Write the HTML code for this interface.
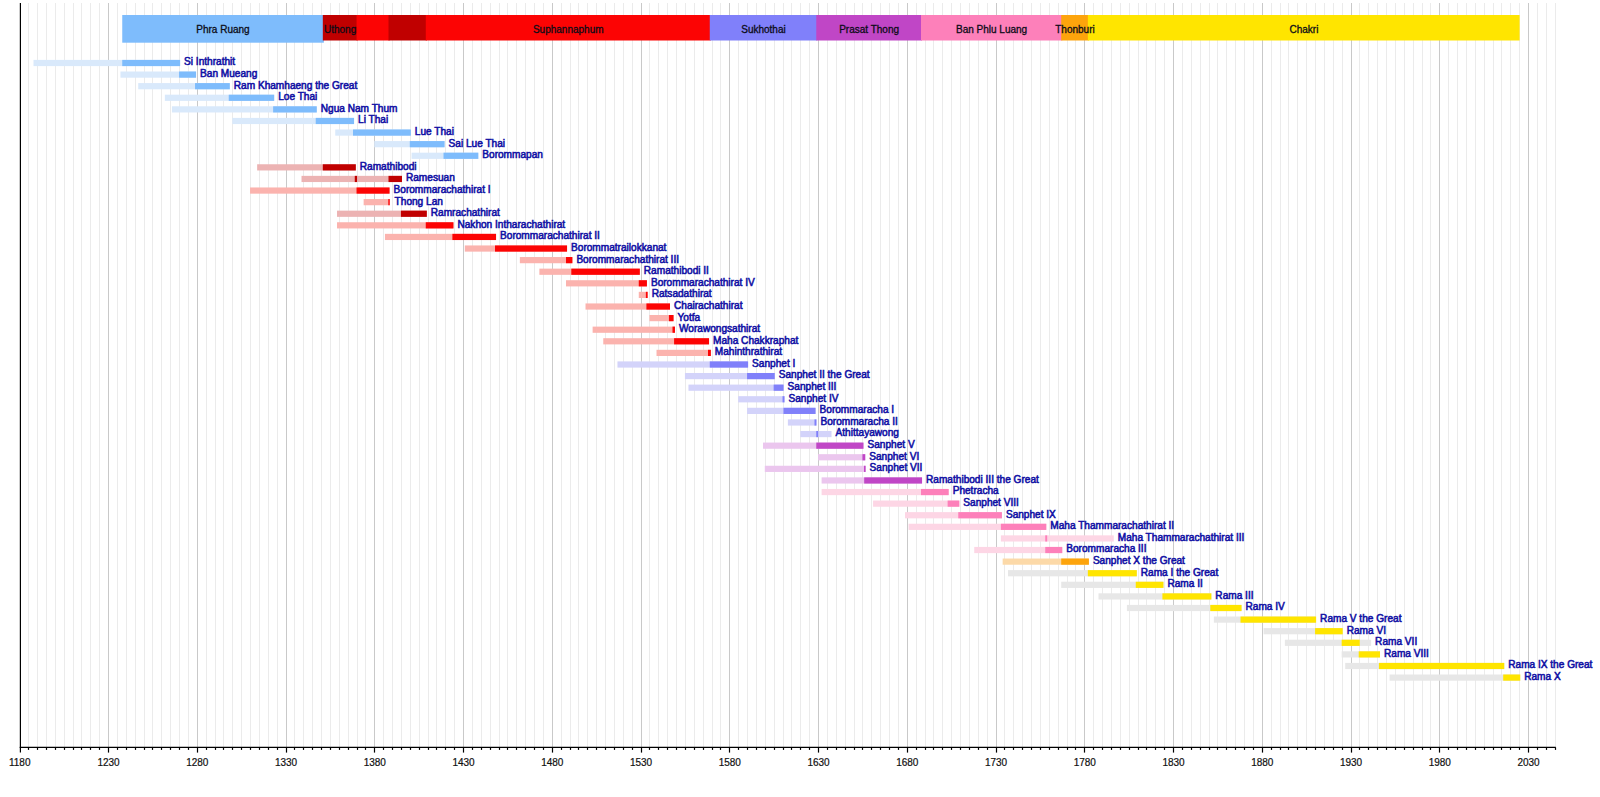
<!DOCTYPE html>
<html lang="en">
<head>
<meta charset="utf-8">
<title>Timeline of Thai monarchs</title>
<style>
html,body{margin:0;padding:0;background:#fff;}
body{width:1600px;height:797px;overflow:hidden;}
svg{display:block;font-family:"Liberation Sans",Arial,Helvetica,sans-serif;font-size:10px;}
.k{font-size:10.1px;fill:#1010a4;stroke:#1010a4;stroke-width:.55px;}
.d{fill:#0c0c18;stroke:#0c0c18;stroke-width:.3px;text-anchor:middle;}
.a{fill:#111;stroke:#111;stroke-width:.2px;text-anchor:middle;}
.g1{stroke:#ebebeb;stroke-width:1;}
.g2{stroke:#c9c9c9;stroke-width:1;}
.ax{stroke:#000;stroke-width:1.2;}
</style>
</head>
<body>
<svg width="1600" height="797" viewBox="0 0 1600 797">
<rect width="1600" height="797" fill="#fff"/>
<g class="g1">
<line x1="28.5" y1="3.0" x2="28.5" y2="747.3"/>
<line x1="37.5" y1="3.0" x2="37.5" y2="747.3"/>
<line x1="46.5" y1="3.0" x2="46.5" y2="747.3"/>
<line x1="55.5" y1="3.0" x2="55.5" y2="747.3"/>
<line x1="64.5" y1="3.0" x2="64.5" y2="747.3"/>
<line x1="73.5" y1="3.0" x2="73.5" y2="747.3"/>
<line x1="81.5" y1="3.0" x2="81.5" y2="747.3"/>
<line x1="90.5" y1="3.0" x2="90.5" y2="747.3"/>
<line x1="99.5" y1="3.0" x2="99.5" y2="747.3"/>
<line x1="117.5" y1="3.0" x2="117.5" y2="747.3"/>
<line x1="126.5" y1="3.0" x2="126.5" y2="747.3"/>
<line x1="135.5" y1="3.0" x2="135.5" y2="747.3"/>
<line x1="144.5" y1="3.0" x2="144.5" y2="747.3"/>
<line x1="152.5" y1="3.0" x2="152.5" y2="747.3"/>
<line x1="161.5" y1="3.0" x2="161.5" y2="747.3"/>
<line x1="170.5" y1="3.0" x2="170.5" y2="747.3"/>
<line x1="179.5" y1="3.0" x2="179.5" y2="747.3"/>
<line x1="188.5" y1="3.0" x2="188.5" y2="747.3"/>
<line x1="206.5" y1="3.0" x2="206.5" y2="747.3"/>
<line x1="215.5" y1="3.0" x2="215.5" y2="747.3"/>
<line x1="223.5" y1="3.0" x2="223.5" y2="747.3"/>
<line x1="232.5" y1="3.0" x2="232.5" y2="747.3"/>
<line x1="241.5" y1="3.0" x2="241.5" y2="747.3"/>
<line x1="250.5" y1="3.0" x2="250.5" y2="747.3"/>
<line x1="259.5" y1="3.0" x2="259.5" y2="747.3"/>
<line x1="268.5" y1="3.0" x2="268.5" y2="747.3"/>
<line x1="277.5" y1="3.0" x2="277.5" y2="747.3"/>
<line x1="294.5" y1="3.0" x2="294.5" y2="747.3"/>
<line x1="303.5" y1="3.0" x2="303.5" y2="747.3"/>
<line x1="312.5" y1="3.0" x2="312.5" y2="747.3"/>
<line x1="321.5" y1="3.0" x2="321.5" y2="747.3"/>
<line x1="330.5" y1="3.0" x2="330.5" y2="747.3"/>
<line x1="339.5" y1="3.0" x2="339.5" y2="747.3"/>
<line x1="348.5" y1="3.0" x2="348.5" y2="747.3"/>
<line x1="357.5" y1="3.0" x2="357.5" y2="747.3"/>
<line x1="365.5" y1="3.0" x2="365.5" y2="747.3"/>
<line x1="383.5" y1="3.0" x2="383.5" y2="747.3"/>
<line x1="392.5" y1="3.0" x2="392.5" y2="747.3"/>
<line x1="401.5" y1="3.0" x2="401.5" y2="747.3"/>
<line x1="410.5" y1="3.0" x2="410.5" y2="747.3"/>
<line x1="419.5" y1="3.0" x2="419.5" y2="747.3"/>
<line x1="428.5" y1="3.0" x2="428.5" y2="747.3"/>
<line x1="436.5" y1="3.0" x2="436.5" y2="747.3"/>
<line x1="445.5" y1="3.0" x2="445.5" y2="747.3"/>
<line x1="454.5" y1="3.0" x2="454.5" y2="747.3"/>
<line x1="472.5" y1="3.0" x2="472.5" y2="747.3"/>
<line x1="481.5" y1="3.0" x2="481.5" y2="747.3"/>
<line x1="490.5" y1="3.0" x2="490.5" y2="747.3"/>
<line x1="499.5" y1="3.0" x2="499.5" y2="747.3"/>
<line x1="507.5" y1="3.0" x2="507.5" y2="747.3"/>
<line x1="516.5" y1="3.0" x2="516.5" y2="747.3"/>
<line x1="525.5" y1="3.0" x2="525.5" y2="747.3"/>
<line x1="534.5" y1="3.0" x2="534.5" y2="747.3"/>
<line x1="543.5" y1="3.0" x2="543.5" y2="747.3"/>
<line x1="561.5" y1="3.0" x2="561.5" y2="747.3"/>
<line x1="570.5" y1="3.0" x2="570.5" y2="747.3"/>
<line x1="578.5" y1="3.0" x2="578.5" y2="747.3"/>
<line x1="587.5" y1="3.0" x2="587.5" y2="747.3"/>
<line x1="596.5" y1="3.0" x2="596.5" y2="747.3"/>
<line x1="605.5" y1="3.0" x2="605.5" y2="747.3"/>
<line x1="614.5" y1="3.0" x2="614.5" y2="747.3"/>
<line x1="623.5" y1="3.0" x2="623.5" y2="747.3"/>
<line x1="632.5" y1="3.0" x2="632.5" y2="747.3"/>
<line x1="649.5" y1="3.0" x2="649.5" y2="747.3"/>
<line x1="658.5" y1="3.0" x2="658.5" y2="747.3"/>
<line x1="667.5" y1="3.0" x2="667.5" y2="747.3"/>
<line x1="676.5" y1="3.0" x2="676.5" y2="747.3"/>
<line x1="685.5" y1="3.0" x2="685.5" y2="747.3"/>
<line x1="694.5" y1="3.0" x2="694.5" y2="747.3"/>
<line x1="703.5" y1="3.0" x2="703.5" y2="747.3"/>
<line x1="712.5" y1="3.0" x2="712.5" y2="747.3"/>
<line x1="720.5" y1="3.0" x2="720.5" y2="747.3"/>
<line x1="738.5" y1="3.0" x2="738.5" y2="747.3"/>
<line x1="747.5" y1="3.0" x2="747.5" y2="747.3"/>
<line x1="756.5" y1="3.0" x2="756.5" y2="747.3"/>
<line x1="765.5" y1="3.0" x2="765.5" y2="747.3"/>
<line x1="774.5" y1="3.0" x2="774.5" y2="747.3"/>
<line x1="783.5" y1="3.0" x2="783.5" y2="747.3"/>
<line x1="791.5" y1="3.0" x2="791.5" y2="747.3"/>
<line x1="800.5" y1="3.0" x2="800.5" y2="747.3"/>
<line x1="809.5" y1="3.0" x2="809.5" y2="747.3"/>
<line x1="827.5" y1="3.0" x2="827.5" y2="747.3"/>
<line x1="836.5" y1="3.0" x2="836.5" y2="747.3"/>
<line x1="845.5" y1="3.0" x2="845.5" y2="747.3"/>
<line x1="854.5" y1="3.0" x2="854.5" y2="747.3"/>
<line x1="862.5" y1="3.0" x2="862.5" y2="747.3"/>
<line x1="871.5" y1="3.0" x2="871.5" y2="747.3"/>
<line x1="880.5" y1="3.0" x2="880.5" y2="747.3"/>
<line x1="889.5" y1="3.0" x2="889.5" y2="747.3"/>
<line x1="898.5" y1="3.0" x2="898.5" y2="747.3"/>
<line x1="916.5" y1="3.0" x2="916.5" y2="747.3"/>
<line x1="925.5" y1="3.0" x2="925.5" y2="747.3"/>
<line x1="933.5" y1="3.0" x2="933.5" y2="747.3"/>
<line x1="942.5" y1="3.0" x2="942.5" y2="747.3"/>
<line x1="951.5" y1="3.0" x2="951.5" y2="747.3"/>
<line x1="960.5" y1="3.0" x2="960.5" y2="747.3"/>
<line x1="969.5" y1="3.0" x2="969.5" y2="747.3"/>
<line x1="978.5" y1="3.0" x2="978.5" y2="747.3"/>
<line x1="987.5" y1="3.0" x2="987.5" y2="747.3"/>
<line x1="1004.5" y1="3.0" x2="1004.5" y2="747.3"/>
<line x1="1013.5" y1="3.0" x2="1013.5" y2="747.3"/>
<line x1="1022.5" y1="3.0" x2="1022.5" y2="747.3"/>
<line x1="1031.5" y1="3.0" x2="1031.5" y2="747.3"/>
<line x1="1040.5" y1="3.0" x2="1040.5" y2="747.3"/>
<line x1="1049.5" y1="3.0" x2="1049.5" y2="747.3"/>
<line x1="1058.5" y1="3.0" x2="1058.5" y2="747.3"/>
<line x1="1067.5" y1="3.0" x2="1067.5" y2="747.3"/>
<line x1="1075.5" y1="3.0" x2="1075.5" y2="747.3"/>
<line x1="1093.5" y1="3.0" x2="1093.5" y2="747.3"/>
<line x1="1102.5" y1="3.0" x2="1102.5" y2="747.3"/>
<line x1="1111.5" y1="3.0" x2="1111.5" y2="747.3"/>
<line x1="1120.5" y1="3.0" x2="1120.5" y2="747.3"/>
<line x1="1129.5" y1="3.0" x2="1129.5" y2="747.3"/>
<line x1="1138.5" y1="3.0" x2="1138.5" y2="747.3"/>
<line x1="1146.5" y1="3.0" x2="1146.5" y2="747.3"/>
<line x1="1155.5" y1="3.0" x2="1155.5" y2="747.3"/>
<line x1="1164.5" y1="3.0" x2="1164.5" y2="747.3"/>
<line x1="1182.5" y1="3.0" x2="1182.5" y2="747.3"/>
<line x1="1191.5" y1="3.0" x2="1191.5" y2="747.3"/>
<line x1="1200.5" y1="3.0" x2="1200.5" y2="747.3"/>
<line x1="1209.5" y1="3.0" x2="1209.5" y2="747.3"/>
<line x1="1217.5" y1="3.0" x2="1217.5" y2="747.3"/>
<line x1="1226.5" y1="3.0" x2="1226.5" y2="747.3"/>
<line x1="1235.5" y1="3.0" x2="1235.5" y2="747.3"/>
<line x1="1244.5" y1="3.0" x2="1244.5" y2="747.3"/>
<line x1="1253.5" y1="3.0" x2="1253.5" y2="747.3"/>
<line x1="1271.5" y1="3.0" x2="1271.5" y2="747.3"/>
<line x1="1280.5" y1="3.0" x2="1280.5" y2="747.3"/>
<line x1="1288.5" y1="3.0" x2="1288.5" y2="747.3"/>
<line x1="1297.5" y1="3.0" x2="1297.5" y2="747.3"/>
<line x1="1306.5" y1="3.0" x2="1306.5" y2="747.3"/>
<line x1="1315.5" y1="3.0" x2="1315.5" y2="747.3"/>
<line x1="1324.5" y1="3.0" x2="1324.5" y2="747.3"/>
<line x1="1333.5" y1="3.0" x2="1333.5" y2="747.3"/>
<line x1="1342.5" y1="3.0" x2="1342.5" y2="747.3"/>
<line x1="1359.5" y1="3.0" x2="1359.5" y2="747.3"/>
<line x1="1368.5" y1="3.0" x2="1368.5" y2="747.3"/>
<line x1="1377.5" y1="3.0" x2="1377.5" y2="747.3"/>
<line x1="1386.5" y1="3.0" x2="1386.5" y2="747.3"/>
<line x1="1395.5" y1="3.0" x2="1395.5" y2="747.3"/>
<line x1="1404.5" y1="3.0" x2="1404.5" y2="747.3"/>
<line x1="1413.5" y1="3.0" x2="1413.5" y2="747.3"/>
<line x1="1422.5" y1="3.0" x2="1422.5" y2="747.3"/>
<line x1="1430.5" y1="3.0" x2="1430.5" y2="747.3"/>
<line x1="1448.5" y1="3.0" x2="1448.5" y2="747.3"/>
<line x1="1457.5" y1="3.0" x2="1457.5" y2="747.3"/>
<line x1="1466.5" y1="3.0" x2="1466.5" y2="747.3"/>
<line x1="1475.5" y1="3.0" x2="1475.5" y2="747.3"/>
<line x1="1484.5" y1="3.0" x2="1484.5" y2="747.3"/>
<line x1="1493.5" y1="3.0" x2="1493.5" y2="747.3"/>
<line x1="1501.5" y1="3.0" x2="1501.5" y2="747.3"/>
<line x1="1510.5" y1="3.0" x2="1510.5" y2="747.3"/>
<line x1="1519.5" y1="3.0" x2="1519.5" y2="747.3"/>
<line x1="1537.5" y1="3.0" x2="1537.5" y2="747.3"/>
<line x1="1546.5" y1="3.0" x2="1546.5" y2="747.3"/>
<line x1="1555.5" y1="3.0" x2="1555.5" y2="747.3"/>
</g>
<g class="g2">
<line x1="108.5" y1="3.0" x2="108.5" y2="747.3"/>
<line x1="197.5" y1="3.0" x2="197.5" y2="747.3"/>
<line x1="286.5" y1="3.0" x2="286.5" y2="747.3"/>
<line x1="374.5" y1="3.0" x2="374.5" y2="747.3"/>
<line x1="463.5" y1="3.0" x2="463.5" y2="747.3"/>
<line x1="552.5" y1="3.0" x2="552.5" y2="747.3"/>
<line x1="641.5" y1="3.0" x2="641.5" y2="747.3"/>
<line x1="729.5" y1="3.0" x2="729.5" y2="747.3"/>
<line x1="818.5" y1="3.0" x2="818.5" y2="747.3"/>
<line x1="907.5" y1="3.0" x2="907.5" y2="747.3"/>
<line x1="996.5" y1="3.0" x2="996.5" y2="747.3"/>
<line x1="1084.5" y1="3.0" x2="1084.5" y2="747.3"/>
<line x1="1173.5" y1="3.0" x2="1173.5" y2="747.3"/>
<line x1="1262.5" y1="3.0" x2="1262.5" y2="747.3"/>
<line x1="1351.5" y1="3.0" x2="1351.5" y2="747.3"/>
<line x1="1439.5" y1="3.0" x2="1439.5" y2="747.3"/>
<line x1="1528.5" y1="3.0" x2="1528.5" y2="747.3"/>
</g>
<g>
<rect x="122.25" y="15.0" width="201.62" height="27.7" fill="#7ebcfc"/>
<rect x="322.82" y="15.0" width="34.78" height="25.5" fill="#c00000"/>
<rect x="356.55" y="15.0" width="33.00" height="25.5" fill="#fc0404"/>
<rect x="388.50" y="15.0" width="38.32" height="25.5" fill="#c00000"/>
<rect x="425.77" y="15.0" width="285.05" height="25.5" fill="#fc0404"/>
<rect x="709.77" y="15.0" width="107.55" height="25.5" fill="#8080fa"/>
<rect x="816.27" y="15.0" width="105.78" height="25.5" fill="#c046c6"/>
<rect x="921.00" y="15.0" width="141.28" height="25.5" fill="#fd80ba"/>
<rect x="1061.22" y="15.0" width="27.68" height="25.5" fill="#fda40c"/>
<rect x="1087.85" y="15.0" width="431.78" height="25.5" fill="#ffe500"/>
</g>
<g class="d">
<text x="222.99" y="32.6">Phra Ruang</text>
<text x="340.14" y="32.6">Uthong</text>
<text x="568.22" y="32.6">Suphannaphum</text>
<text x="763.47" y="32.6">Sukhothai</text>
<text x="869.09" y="32.6">Prasat Thong</text>
<text x="991.56" y="32.6">Ban Phlu Luang</text>
<text x="1074.99" y="32.6">Thonburi</text>
<text x="1303.96" y="32.6">Chakri</text>
</g>
<g><rect x="33.50" y="59.90" width="146.60" height="6.2" fill="#d9e9fb"/>
<rect x="122.25" y="59.90" width="57.85" height="6.2" fill="#7ebcfc"/>
<text class="k" x="184.10" y="65.40">Si Inthrathit</text></g>
<g><rect x="120.47" y="71.50" width="75.60" height="6.2" fill="#d9e9fb"/>
<rect x="179.05" y="71.50" width="17.02" height="6.2" fill="#7ebcfc"/>
<text class="k" x="200.07" y="77.00">Ban Mueang</text></g>
<g><rect x="138.23" y="83.09" width="91.57" height="6.2" fill="#d9e9fb"/>
<rect x="195.03" y="83.09" width="34.77" height="6.2" fill="#7ebcfc"/>
<text class="k" x="233.80" y="88.59">Ram Khamhaeng the Great</text></g>
<g><rect x="164.85" y="94.69" width="109.33" height="6.2" fill="#d9e9fb"/>
<rect x="228.75" y="94.69" width="45.43" height="6.2" fill="#7ebcfc"/>
<text class="k" x="278.18" y="100.19">Loe Thai</text></g>
<g><rect x="171.95" y="106.28" width="144.82" height="6.2" fill="#d9e9fb"/>
<rect x="273.12" y="106.28" width="43.65" height="6.2" fill="#7ebcfc"/>
<text class="k" x="320.78" y="111.78">Ngua Nam Thum</text></g>
<g><rect x="232.30" y="117.88" width="121.75" height="6.2" fill="#d9e9fb"/>
<rect x="315.73" y="117.88" width="38.32" height="6.2" fill="#7ebcfc"/>
<text class="k" x="358.05" y="123.38">Li Thai</text></g>
<g><rect x="335.25" y="129.48" width="75.60" height="6.2" fill="#d9e9fb"/>
<rect x="353.00" y="129.48" width="57.85" height="6.2" fill="#7ebcfc"/>
<text class="k" x="414.85" y="134.98">Lue Thai</text></g>
<g><rect x="374.30" y="141.07" width="70.27" height="6.2" fill="#d9e9fb"/>
<rect x="409.80" y="141.07" width="34.77" height="6.2" fill="#7ebcfc"/>
<text class="k" x="448.57" y="146.57">Sai Lue Thai</text></g>
<g><rect x="411.57" y="152.67" width="66.73" height="6.2" fill="#d9e9fb"/>
<rect x="443.52" y="152.67" width="34.78" height="6.2" fill="#7ebcfc"/>
<text class="k" x="482.30" y="158.17">Borommapan</text></g>
<g><rect x="257.15" y="164.26" width="98.67" height="6.2" fill="#ecb3b3"/>
<rect x="322.82" y="164.26" width="33.00" height="6.2" fill="#c00000"/>
<text class="k" x="359.82" y="169.76">Ramathibodi</text></g>
<g><rect x="301.52" y="175.86" width="100.45" height="6.2" fill="#ecb3b3"/>
<rect x="354.77" y="175.86" width="2.29" height="6.2" fill="#c00000"/>
<rect x="388.50" y="175.86" width="13.48" height="6.2" fill="#c00000"/>
<text class="k" x="405.98" y="181.36">Ramesuan</text></g>
<g><rect x="250.05" y="187.46" width="139.50" height="6.2" fill="#fbb3ae"/>
<rect x="356.55" y="187.46" width="33.00" height="6.2" fill="#fc0404"/>
<text class="k" x="393.55" y="192.96">Borommarachathirat I</text></g>
<g><rect x="363.65" y="199.05" width="26.08" height="6.2" fill="#fbb3ae"/>
<rect x="388.32" y="199.05" width="1.40" height="6.2" fill="#fc0404"/>
<text class="k" x="394.61" y="204.55">Thong Lan</text></g>
<g><rect x="337.02" y="210.65" width="89.80" height="6.2" fill="#ecb3b3"/>
<rect x="400.93" y="210.65" width="25.90" height="6.2" fill="#c00000"/>
<text class="k" x="430.82" y="216.15">Ramrachathirat</text></g>
<g><rect x="337.02" y="222.24" width="116.42" height="6.2" fill="#fbb3ae"/>
<rect x="425.77" y="222.24" width="27.68" height="6.2" fill="#fc0404"/>
<text class="k" x="457.45" y="227.74">Nakhon Intharachathirat</text></g>
<g><rect x="384.95" y="233.84" width="111.10" height="6.2" fill="#fbb3ae"/>
<rect x="452.40" y="233.84" width="43.65" height="6.2" fill="#fc0404"/>
<text class="k" x="500.05" y="239.34">Borommarachathirat II</text></g>
<g><rect x="464.82" y="245.44" width="102.22" height="6.2" fill="#fbb3ae"/>
<rect x="495.00" y="245.44" width="72.05" height="6.2" fill="#fc0404"/>
<text class="k" x="571.05" y="250.94">Borommatrailokkanat</text></g>
<g><rect x="519.85" y="257.03" width="52.53" height="6.2" fill="#fbb3ae"/>
<rect x="566.00" y="257.03" width="6.38" height="6.2" fill="#fc0404"/>
<text class="k" x="576.38" y="262.53">Borommarachathirat III</text></g>
<g><rect x="539.37" y="268.63" width="100.45" height="6.2" fill="#fbb3ae"/>
<rect x="571.32" y="268.63" width="68.50" height="6.2" fill="#fc0404"/>
<text class="k" x="643.83" y="274.13">Ramathibodi II</text></g>
<g><rect x="566.00" y="280.22" width="80.92" height="6.2" fill="#fbb3ae"/>
<rect x="638.77" y="280.22" width="8.15" height="6.2" fill="#fc0404"/>
<text class="k" x="650.92" y="285.72">Borommarachathirat IV</text></g>
<g><rect x="638.77" y="291.82" width="8.86" height="6.2" fill="#fbb3ae"/>
<rect x="645.87" y="291.82" width="1.76" height="6.2" fill="#fc0404"/>
<text class="k" x="651.64" y="297.32">Ratsadathirat</text></g>
<g><rect x="585.52" y="303.42" width="84.47" height="6.2" fill="#fbb3ae"/>
<rect x="646.41" y="303.42" width="23.59" height="6.2" fill="#fc0404"/>
<text class="k" x="674.00" y="308.92">Chairachathirat</text></g>
<g><rect x="649.42" y="315.01" width="24.12" height="6.2" fill="#fbb3ae"/>
<rect x="668.95" y="315.01" width="4.60" height="6.2" fill="#fc0404"/>
<text class="k" x="677.55" y="320.51">Yotfa</text></g>
<g><rect x="592.62" y="326.61" width="82.34" height="6.2" fill="#fbb3ae"/>
<rect x="672.50" y="326.61" width="2.47" height="6.2" fill="#fc0404"/>
<text class="k" x="678.97" y="332.11">Worawongsathirat</text></g>
<g><rect x="603.27" y="338.20" width="105.77" height="6.2" fill="#fbb3ae"/>
<rect x="674.10" y="338.20" width="34.95" height="6.2" fill="#fc0404"/>
<text class="k" x="713.05" y="343.70">Maha Chakkraphat</text></g>
<g><rect x="656.52" y="349.80" width="54.30" height="6.2" fill="#fbb3ae"/>
<rect x="708.00" y="349.80" width="2.82" height="6.2" fill="#fc0404"/>
<text class="k" x="714.82" y="355.30">Mahinthrathirat</text></g>
<g><rect x="617.47" y="361.40" width="130.63" height="6.2" fill="#d3d3fa"/>
<rect x="709.77" y="361.40" width="38.33" height="6.2" fill="#8080fa"/>
<text class="k" x="752.10" y="366.90">Sanphet I</text></g>
<g><rect x="684.92" y="372.99" width="89.80" height="6.2" fill="#d3d3fa"/>
<rect x="747.05" y="372.99" width="27.68" height="6.2" fill="#8080fa"/>
<text class="k" x="778.73" y="378.49">Sanphet II the Great</text></g>
<g><rect x="688.47" y="384.59" width="95.13" height="6.2" fill="#d3d3fa"/>
<rect x="773.67" y="384.59" width="9.92" height="6.2" fill="#8080fa"/>
<text class="k" x="787.60" y="390.09">Sanphet III</text></g>
<g><rect x="738.17" y="396.18" width="46.31" height="6.2" fill="#d3d3fa"/>
<rect x="782.55" y="396.18" width="1.94" height="6.2" fill="#8080fa"/>
<text class="k" x="788.49" y="401.68">Sanphet IV</text></g>
<g><rect x="747.05" y="407.78" width="68.50" height="6.2" fill="#d3d3fa"/>
<rect x="783.44" y="407.78" width="32.11" height="6.2" fill="#8080fa"/>
<text class="k" x="819.55" y="413.28">Borommaracha I</text></g>
<g><rect x="787.87" y="419.38" width="28.56" height="6.2" fill="#d3d3fa"/>
<rect x="814.50" y="419.38" width="1.94" height="6.2" fill="#8080fa"/>
<text class="k" x="820.44" y="424.88">Borommaracha II</text></g>
<g><rect x="800.30" y="430.97" width="31.22" height="6.2" fill="#d3d3fa"/>
<rect x="816.27" y="430.97" width="1.94" height="6.2" fill="#8080fa"/>
<text class="k" x="835.52" y="436.47">Athittayawong</text></g>
<g><rect x="763.02" y="442.57" width="100.45" height="6.2" fill="#ebc6ee"/>
<rect x="816.27" y="442.57" width="47.20" height="6.2" fill="#c046c6"/>
<text class="k" x="867.48" y="448.07">Sanphet V</text></g>
<g><rect x="818.05" y="454.16" width="47.20" height="6.2" fill="#ebc6ee"/>
<rect x="862.42" y="454.16" width="2.82" height="6.2" fill="#c046c6"/>
<text class="k" x="869.25" y="459.66">Sanphet VI</text></g>
<g><rect x="764.80" y="465.76" width="100.80" height="6.2" fill="#ebc6ee"/>
<rect x="864.02" y="465.76" width="1.58" height="6.2" fill="#c046c6"/>
<text class="k" x="869.61" y="471.26">Sanphet VII</text></g>
<g><rect x="821.60" y="477.36" width="100.45" height="6.2" fill="#ebc6ee"/>
<rect x="864.20" y="477.36" width="57.85" height="6.2" fill="#c046c6"/>
<text class="k" x="926.05" y="482.86">Ramathibodi III the Great</text></g>
<g><rect x="821.60" y="488.95" width="127.07" height="6.2" fill="#fdd6e5"/>
<rect x="921.00" y="488.95" width="27.68" height="6.2" fill="#fd80ba"/>
<text class="k" x="952.67" y="494.45">Phetracha</text></g>
<g><rect x="873.07" y="500.55" width="86.25" height="6.2" fill="#fdd6e5"/>
<rect x="947.62" y="500.55" width="11.70" height="6.2" fill="#fd80ba"/>
<text class="k" x="963.32" y="506.05">Sanphet VIII</text></g>
<g><rect x="905.02" y="512.14" width="96.90" height="6.2" fill="#fdd6e5"/>
<rect x="958.27" y="512.14" width="43.65" height="6.2" fill="#fd80ba"/>
<text class="k" x="1005.92" y="517.64">Sanphet IX</text></g>
<g><rect x="908.57" y="523.74" width="137.73" height="6.2" fill="#fdd6e5"/>
<rect x="1000.87" y="523.74" width="45.43" height="6.2" fill="#fd80ba"/>
<text class="k" x="1050.30" y="529.24">Maha Thammarachathirat II</text></g>
<g><rect x="1000.87" y="535.34" width="112.87" height="6.2" fill="#fdd6e5"/>
<rect x="1045.25" y="535.34" width="1.94" height="6.2" fill="#fd80ba"/>
<text class="k" x="1117.75" y="540.84">Maha Thammarachathirat III</text></g>
<g><rect x="974.25" y="546.93" width="88.03" height="6.2" fill="#fdd6e5"/>
<rect x="1045.25" y="546.93" width="17.02" height="6.2" fill="#fd80ba"/>
<text class="k" x="1066.27" y="552.43">Borommaracha III</text></g>
<g><rect x="1002.65" y="558.53" width="86.25" height="6.2" fill="#fcd9a8"/>
<rect x="1061.22" y="558.53" width="27.68" height="6.2" fill="#fda40c"/>
<text class="k" x="1092.90" y="564.03">Sanphet X the Great</text></g>
<g><rect x="1007.97" y="570.12" width="128.85" height="6.2" fill="#e7e7e7"/>
<rect x="1087.85" y="570.12" width="48.97" height="6.2" fill="#ffe500"/>
<text class="k" x="1140.82" y="575.62">Rama I the Great</text></g>
<g><rect x="1061.22" y="581.72" width="102.22" height="6.2" fill="#e7e7e7"/>
<rect x="1135.77" y="581.72" width="27.68" height="6.2" fill="#ffe500"/>
<text class="k" x="1167.45" y="587.22">Rama II</text></g>
<g><rect x="1098.50" y="593.32" width="112.87" height="6.2" fill="#e7e7e7"/>
<rect x="1162.40" y="593.32" width="48.97" height="6.2" fill="#ffe500"/>
<text class="k" x="1215.37" y="598.82">Rama III</text></g>
<g><rect x="1126.90" y="604.91" width="114.65" height="6.2" fill="#e7e7e7"/>
<rect x="1210.32" y="604.91" width="31.23" height="6.2" fill="#ffe500"/>
<text class="k" x="1245.55" y="610.41">Rama IV</text></g>
<g><rect x="1213.88" y="616.51" width="102.22" height="6.2" fill="#e7e7e7"/>
<rect x="1240.50" y="616.51" width="75.60" height="6.2" fill="#ffe500"/>
<text class="k" x="1320.10" y="622.01">Rama V the Great</text></g>
<g><rect x="1263.57" y="628.10" width="79.15" height="6.2" fill="#e7e7e7"/>
<rect x="1315.05" y="628.10" width="27.68" height="6.2" fill="#ffe500"/>
<text class="k" x="1346.72" y="633.60">Rama VI</text></g>
<g><rect x="1284.88" y="639.70" width="86.25" height="6.2" fill="#e7e7e7"/>
<rect x="1341.67" y="639.70" width="18.09" height="6.2" fill="#ffe500"/>
<text class="k" x="1375.12" y="645.20">Rama VII</text></g>
<g><rect x="1341.67" y="651.30" width="38.32" height="6.2" fill="#e7e7e7"/>
<rect x="1358.71" y="651.30" width="21.29" height="6.2" fill="#ffe500"/>
<text class="k" x="1384.00" y="656.80">Rama VIII</text></g>
<g><rect x="1345.22" y="662.89" width="159.02" height="6.2" fill="#e7e7e7"/>
<rect x="1378.95" y="662.89" width="125.30" height="6.2" fill="#ffe500"/>
<text class="k" x="1508.25" y="668.39">Rama IX the Great</text></g>
<g><rect x="1389.60" y="674.49" width="130.63" height="6.2" fill="#e7e7e7"/>
<rect x="1503.20" y="674.49" width="17.03" height="6.2" fill="#ffe500"/>
<text class="k" x="1524.22" y="679.99">Rama X</text></g>
<g class="ax"><line x1="20.40" y1="3.0" x2="20.40" y2="747.9"/><line x1="19.80" y1="747.3" x2="1555.72" y2="747.3"/>
<line x1="20.4" y1="747.3" x2="20.4" y2="752.5999999999999"/>
<line x1="28.5" y1="747.3" x2="28.5" y2="749.9"/>
<line x1="37.5" y1="747.3" x2="37.5" y2="749.9"/>
<line x1="46.5" y1="747.3" x2="46.5" y2="749.9"/>
<line x1="55.5" y1="747.3" x2="55.5" y2="749.9"/>
<line x1="64.5" y1="747.3" x2="64.5" y2="749.9"/>
<line x1="73.5" y1="747.3" x2="73.5" y2="749.9"/>
<line x1="81.5" y1="747.3" x2="81.5" y2="749.9"/>
<line x1="90.5" y1="747.3" x2="90.5" y2="749.9"/>
<line x1="99.5" y1="747.3" x2="99.5" y2="749.9"/>
<line x1="108.5" y1="747.3" x2="108.5" y2="752.5999999999999"/>
<line x1="117.5" y1="747.3" x2="117.5" y2="749.9"/>
<line x1="126.5" y1="747.3" x2="126.5" y2="749.9"/>
<line x1="135.5" y1="747.3" x2="135.5" y2="749.9"/>
<line x1="144.5" y1="747.3" x2="144.5" y2="749.9"/>
<line x1="152.5" y1="747.3" x2="152.5" y2="749.9"/>
<line x1="161.5" y1="747.3" x2="161.5" y2="749.9"/>
<line x1="170.5" y1="747.3" x2="170.5" y2="749.9"/>
<line x1="179.5" y1="747.3" x2="179.5" y2="749.9"/>
<line x1="188.5" y1="747.3" x2="188.5" y2="749.9"/>
<line x1="197.5" y1="747.3" x2="197.5" y2="752.5999999999999"/>
<line x1="206.5" y1="747.3" x2="206.5" y2="749.9"/>
<line x1="215.5" y1="747.3" x2="215.5" y2="749.9"/>
<line x1="223.5" y1="747.3" x2="223.5" y2="749.9"/>
<line x1="232.5" y1="747.3" x2="232.5" y2="749.9"/>
<line x1="241.5" y1="747.3" x2="241.5" y2="749.9"/>
<line x1="250.5" y1="747.3" x2="250.5" y2="749.9"/>
<line x1="259.5" y1="747.3" x2="259.5" y2="749.9"/>
<line x1="268.5" y1="747.3" x2="268.5" y2="749.9"/>
<line x1="277.5" y1="747.3" x2="277.5" y2="749.9"/>
<line x1="286.5" y1="747.3" x2="286.5" y2="752.5999999999999"/>
<line x1="294.5" y1="747.3" x2="294.5" y2="749.9"/>
<line x1="303.5" y1="747.3" x2="303.5" y2="749.9"/>
<line x1="312.5" y1="747.3" x2="312.5" y2="749.9"/>
<line x1="321.5" y1="747.3" x2="321.5" y2="749.9"/>
<line x1="330.5" y1="747.3" x2="330.5" y2="749.9"/>
<line x1="339.5" y1="747.3" x2="339.5" y2="749.9"/>
<line x1="348.5" y1="747.3" x2="348.5" y2="749.9"/>
<line x1="357.5" y1="747.3" x2="357.5" y2="749.9"/>
<line x1="365.5" y1="747.3" x2="365.5" y2="749.9"/>
<line x1="374.5" y1="747.3" x2="374.5" y2="752.5999999999999"/>
<line x1="383.5" y1="747.3" x2="383.5" y2="749.9"/>
<line x1="392.5" y1="747.3" x2="392.5" y2="749.9"/>
<line x1="401.5" y1="747.3" x2="401.5" y2="749.9"/>
<line x1="410.5" y1="747.3" x2="410.5" y2="749.9"/>
<line x1="419.5" y1="747.3" x2="419.5" y2="749.9"/>
<line x1="428.5" y1="747.3" x2="428.5" y2="749.9"/>
<line x1="436.5" y1="747.3" x2="436.5" y2="749.9"/>
<line x1="445.5" y1="747.3" x2="445.5" y2="749.9"/>
<line x1="454.5" y1="747.3" x2="454.5" y2="749.9"/>
<line x1="463.5" y1="747.3" x2="463.5" y2="752.5999999999999"/>
<line x1="472.5" y1="747.3" x2="472.5" y2="749.9"/>
<line x1="481.5" y1="747.3" x2="481.5" y2="749.9"/>
<line x1="490.5" y1="747.3" x2="490.5" y2="749.9"/>
<line x1="499.5" y1="747.3" x2="499.5" y2="749.9"/>
<line x1="507.5" y1="747.3" x2="507.5" y2="749.9"/>
<line x1="516.5" y1="747.3" x2="516.5" y2="749.9"/>
<line x1="525.5" y1="747.3" x2="525.5" y2="749.9"/>
<line x1="534.5" y1="747.3" x2="534.5" y2="749.9"/>
<line x1="543.5" y1="747.3" x2="543.5" y2="749.9"/>
<line x1="552.5" y1="747.3" x2="552.5" y2="752.5999999999999"/>
<line x1="561.5" y1="747.3" x2="561.5" y2="749.9"/>
<line x1="570.5" y1="747.3" x2="570.5" y2="749.9"/>
<line x1="578.5" y1="747.3" x2="578.5" y2="749.9"/>
<line x1="587.5" y1="747.3" x2="587.5" y2="749.9"/>
<line x1="596.5" y1="747.3" x2="596.5" y2="749.9"/>
<line x1="605.5" y1="747.3" x2="605.5" y2="749.9"/>
<line x1="614.5" y1="747.3" x2="614.5" y2="749.9"/>
<line x1="623.5" y1="747.3" x2="623.5" y2="749.9"/>
<line x1="632.5" y1="747.3" x2="632.5" y2="749.9"/>
<line x1="641.5" y1="747.3" x2="641.5" y2="752.5999999999999"/>
<line x1="649.5" y1="747.3" x2="649.5" y2="749.9"/>
<line x1="658.5" y1="747.3" x2="658.5" y2="749.9"/>
<line x1="667.5" y1="747.3" x2="667.5" y2="749.9"/>
<line x1="676.5" y1="747.3" x2="676.5" y2="749.9"/>
<line x1="685.5" y1="747.3" x2="685.5" y2="749.9"/>
<line x1="694.5" y1="747.3" x2="694.5" y2="749.9"/>
<line x1="703.5" y1="747.3" x2="703.5" y2="749.9"/>
<line x1="712.5" y1="747.3" x2="712.5" y2="749.9"/>
<line x1="720.5" y1="747.3" x2="720.5" y2="749.9"/>
<line x1="729.5" y1="747.3" x2="729.5" y2="752.5999999999999"/>
<line x1="738.5" y1="747.3" x2="738.5" y2="749.9"/>
<line x1="747.5" y1="747.3" x2="747.5" y2="749.9"/>
<line x1="756.5" y1="747.3" x2="756.5" y2="749.9"/>
<line x1="765.5" y1="747.3" x2="765.5" y2="749.9"/>
<line x1="774.5" y1="747.3" x2="774.5" y2="749.9"/>
<line x1="783.5" y1="747.3" x2="783.5" y2="749.9"/>
<line x1="791.5" y1="747.3" x2="791.5" y2="749.9"/>
<line x1="800.5" y1="747.3" x2="800.5" y2="749.9"/>
<line x1="809.5" y1="747.3" x2="809.5" y2="749.9"/>
<line x1="818.5" y1="747.3" x2="818.5" y2="752.5999999999999"/>
<line x1="827.5" y1="747.3" x2="827.5" y2="749.9"/>
<line x1="836.5" y1="747.3" x2="836.5" y2="749.9"/>
<line x1="845.5" y1="747.3" x2="845.5" y2="749.9"/>
<line x1="854.5" y1="747.3" x2="854.5" y2="749.9"/>
<line x1="862.5" y1="747.3" x2="862.5" y2="749.9"/>
<line x1="871.5" y1="747.3" x2="871.5" y2="749.9"/>
<line x1="880.5" y1="747.3" x2="880.5" y2="749.9"/>
<line x1="889.5" y1="747.3" x2="889.5" y2="749.9"/>
<line x1="898.5" y1="747.3" x2="898.5" y2="749.9"/>
<line x1="907.5" y1="747.3" x2="907.5" y2="752.5999999999999"/>
<line x1="916.5" y1="747.3" x2="916.5" y2="749.9"/>
<line x1="925.5" y1="747.3" x2="925.5" y2="749.9"/>
<line x1="933.5" y1="747.3" x2="933.5" y2="749.9"/>
<line x1="942.5" y1="747.3" x2="942.5" y2="749.9"/>
<line x1="951.5" y1="747.3" x2="951.5" y2="749.9"/>
<line x1="960.5" y1="747.3" x2="960.5" y2="749.9"/>
<line x1="969.5" y1="747.3" x2="969.5" y2="749.9"/>
<line x1="978.5" y1="747.3" x2="978.5" y2="749.9"/>
<line x1="987.5" y1="747.3" x2="987.5" y2="749.9"/>
<line x1="996.5" y1="747.3" x2="996.5" y2="752.5999999999999"/>
<line x1="1004.5" y1="747.3" x2="1004.5" y2="749.9"/>
<line x1="1013.5" y1="747.3" x2="1013.5" y2="749.9"/>
<line x1="1022.5" y1="747.3" x2="1022.5" y2="749.9"/>
<line x1="1031.5" y1="747.3" x2="1031.5" y2="749.9"/>
<line x1="1040.5" y1="747.3" x2="1040.5" y2="749.9"/>
<line x1="1049.5" y1="747.3" x2="1049.5" y2="749.9"/>
<line x1="1058.5" y1="747.3" x2="1058.5" y2="749.9"/>
<line x1="1067.5" y1="747.3" x2="1067.5" y2="749.9"/>
<line x1="1075.5" y1="747.3" x2="1075.5" y2="749.9"/>
<line x1="1084.5" y1="747.3" x2="1084.5" y2="752.5999999999999"/>
<line x1="1093.5" y1="747.3" x2="1093.5" y2="749.9"/>
<line x1="1102.5" y1="747.3" x2="1102.5" y2="749.9"/>
<line x1="1111.5" y1="747.3" x2="1111.5" y2="749.9"/>
<line x1="1120.5" y1="747.3" x2="1120.5" y2="749.9"/>
<line x1="1129.5" y1="747.3" x2="1129.5" y2="749.9"/>
<line x1="1138.5" y1="747.3" x2="1138.5" y2="749.9"/>
<line x1="1146.5" y1="747.3" x2="1146.5" y2="749.9"/>
<line x1="1155.5" y1="747.3" x2="1155.5" y2="749.9"/>
<line x1="1164.5" y1="747.3" x2="1164.5" y2="749.9"/>
<line x1="1173.5" y1="747.3" x2="1173.5" y2="752.5999999999999"/>
<line x1="1182.5" y1="747.3" x2="1182.5" y2="749.9"/>
<line x1="1191.5" y1="747.3" x2="1191.5" y2="749.9"/>
<line x1="1200.5" y1="747.3" x2="1200.5" y2="749.9"/>
<line x1="1209.5" y1="747.3" x2="1209.5" y2="749.9"/>
<line x1="1217.5" y1="747.3" x2="1217.5" y2="749.9"/>
<line x1="1226.5" y1="747.3" x2="1226.5" y2="749.9"/>
<line x1="1235.5" y1="747.3" x2="1235.5" y2="749.9"/>
<line x1="1244.5" y1="747.3" x2="1244.5" y2="749.9"/>
<line x1="1253.5" y1="747.3" x2="1253.5" y2="749.9"/>
<line x1="1262.5" y1="747.3" x2="1262.5" y2="752.5999999999999"/>
<line x1="1271.5" y1="747.3" x2="1271.5" y2="749.9"/>
<line x1="1280.5" y1="747.3" x2="1280.5" y2="749.9"/>
<line x1="1288.5" y1="747.3" x2="1288.5" y2="749.9"/>
<line x1="1297.5" y1="747.3" x2="1297.5" y2="749.9"/>
<line x1="1306.5" y1="747.3" x2="1306.5" y2="749.9"/>
<line x1="1315.5" y1="747.3" x2="1315.5" y2="749.9"/>
<line x1="1324.5" y1="747.3" x2="1324.5" y2="749.9"/>
<line x1="1333.5" y1="747.3" x2="1333.5" y2="749.9"/>
<line x1="1342.5" y1="747.3" x2="1342.5" y2="749.9"/>
<line x1="1351.5" y1="747.3" x2="1351.5" y2="752.5999999999999"/>
<line x1="1359.5" y1="747.3" x2="1359.5" y2="749.9"/>
<line x1="1368.5" y1="747.3" x2="1368.5" y2="749.9"/>
<line x1="1377.5" y1="747.3" x2="1377.5" y2="749.9"/>
<line x1="1386.5" y1="747.3" x2="1386.5" y2="749.9"/>
<line x1="1395.5" y1="747.3" x2="1395.5" y2="749.9"/>
<line x1="1404.5" y1="747.3" x2="1404.5" y2="749.9"/>
<line x1="1413.5" y1="747.3" x2="1413.5" y2="749.9"/>
<line x1="1422.5" y1="747.3" x2="1422.5" y2="749.9"/>
<line x1="1430.5" y1="747.3" x2="1430.5" y2="749.9"/>
<line x1="1439.5" y1="747.3" x2="1439.5" y2="752.5999999999999"/>
<line x1="1448.5" y1="747.3" x2="1448.5" y2="749.9"/>
<line x1="1457.5" y1="747.3" x2="1457.5" y2="749.9"/>
<line x1="1466.5" y1="747.3" x2="1466.5" y2="749.9"/>
<line x1="1475.5" y1="747.3" x2="1475.5" y2="749.9"/>
<line x1="1484.5" y1="747.3" x2="1484.5" y2="749.9"/>
<line x1="1493.5" y1="747.3" x2="1493.5" y2="749.9"/>
<line x1="1501.5" y1="747.3" x2="1501.5" y2="749.9"/>
<line x1="1510.5" y1="747.3" x2="1510.5" y2="749.9"/>
<line x1="1519.5" y1="747.3" x2="1519.5" y2="749.9"/>
<line x1="1528.5" y1="747.3" x2="1528.5" y2="752.5999999999999"/>
<line x1="1537.5" y1="747.3" x2="1537.5" y2="749.9"/>
<line x1="1546.5" y1="747.3" x2="1546.5" y2="749.9"/>
<line x1="1555.5" y1="747.3" x2="1555.5" y2="749.9"/>
</g>
<g class="a">
<text x="19.75" y="766">1180</text>
<text x="108.50" y="766">1230</text>
<text x="197.25" y="766">1280</text>
<text x="286.00" y="766">1330</text>
<text x="374.75" y="766">1380</text>
<text x="463.50" y="766">1430</text>
<text x="552.25" y="766">1480</text>
<text x="641.00" y="766">1530</text>
<text x="729.75" y="766">1580</text>
<text x="818.50" y="766">1630</text>
<text x="907.25" y="766">1680</text>
<text x="996.00" y="766">1730</text>
<text x="1084.75" y="766">1780</text>
<text x="1173.50" y="766">1830</text>
<text x="1262.25" y="766">1880</text>
<text x="1351.00" y="766">1930</text>
<text x="1439.75" y="766">1980</text>
<text x="1528.50" y="766">2030</text>
</g>
</svg>
</body>
</html>
